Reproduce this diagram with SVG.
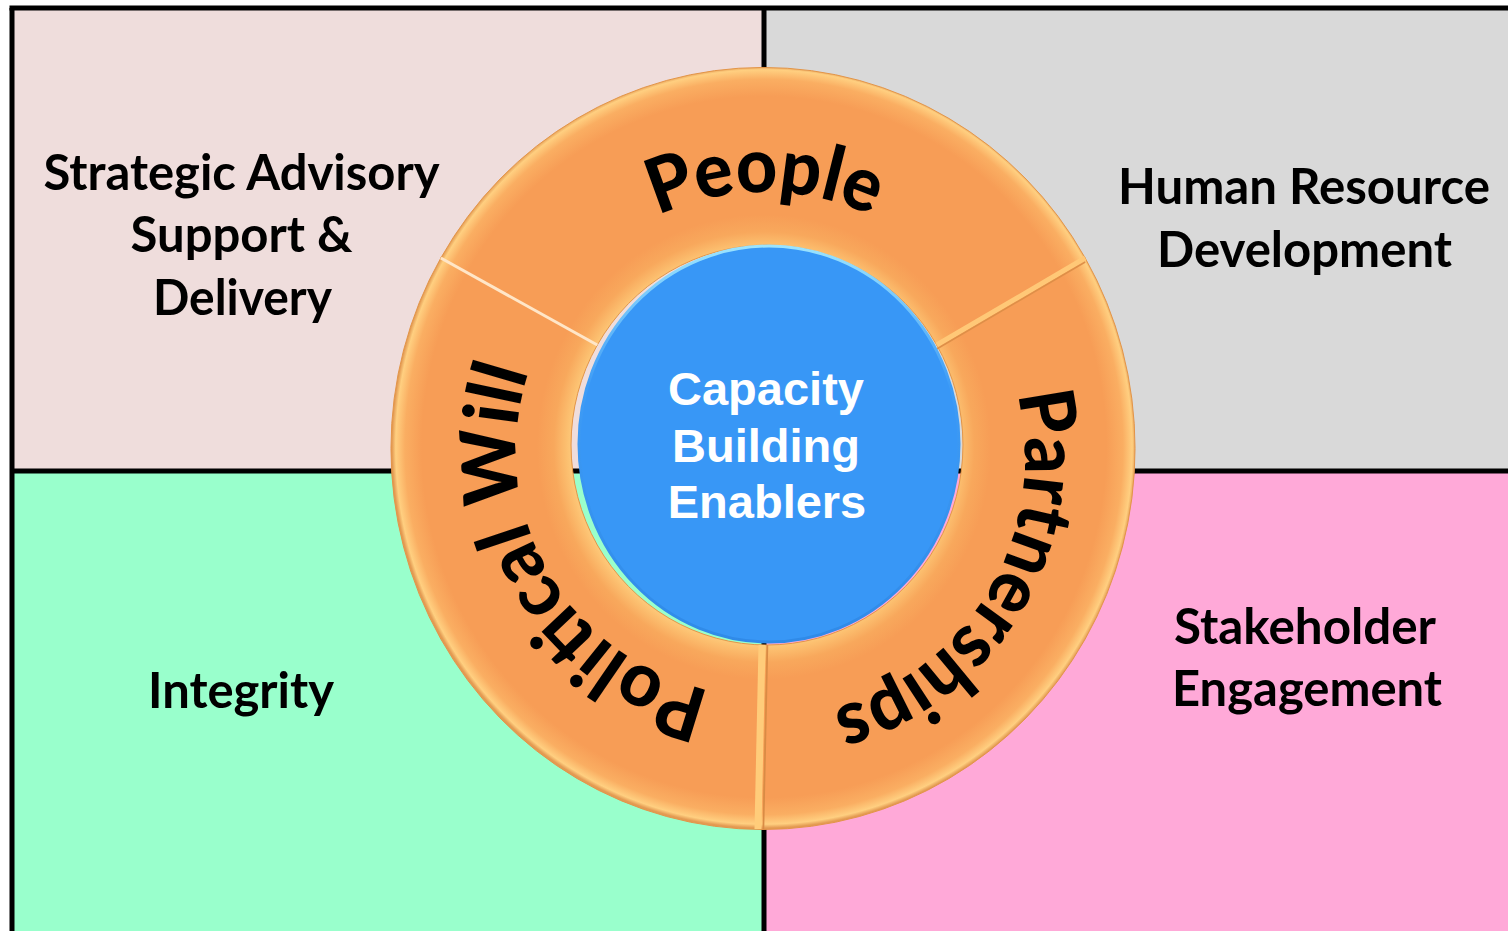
<svg xmlns="http://www.w3.org/2000/svg" width="1508" height="931" viewBox="0 0 1508 931">
  <style>
    .q { font-family: Lato, "Open Sans", "Liberation Sans", sans-serif; font-weight: 700; font-size: 49px; fill: #000; text-anchor: middle; }
    .ringtxt { font-family: Lato, "Open Sans", "Liberation Sans", sans-serif; font-weight: 900; font-size: 76px; fill: #000; }
    .ctr { font-family: "Liberation Sans", Arial, sans-serif; font-weight: 700; font-size: 47px; fill: #fff; text-anchor: middle; }
    .frame { stroke: #000; stroke-width: 5; fill: none; }
    .seg { fill: url(#ringGrad); stroke: #E39548; stroke-width: 1; }
  </style>
  <defs>
    <radialGradient id="ringGrad" gradientUnits="userSpaceOnUse" cx="0" cy="0" r="1" gradientTransform="translate(764 447) scale(372 381)">
      <stop offset="0.50" stop-color="#FFD586"/>
      <stop offset="0.53" stop-color="#FCC070"/>
      <stop offset="0.565" stop-color="#F8A85C"/>
      <stop offset="0.61" stop-color="#F79D56"/>
      <stop offset="0.92" stop-color="#F79D56"/>
      <stop offset="0.965" stop-color="#FAAE62"/>
      <stop offset="0.99" stop-color="#FFCF80"/>
      <stop offset="1" stop-color="#E39A52"/>
    </radialGradient>
    <linearGradient id="blueRim" x1="0" y1="0" x2="0" y2="1">
      <stop offset="0" stop-color="#9BE4FF"/>
      <stop offset="0.35" stop-color="#3E9CF6"/>
      <stop offset="1" stop-color="#2F8AE8"/>
    </linearGradient>
    <path id="pPeople" d="M 510 447 A 255 255 0 0 1 1020 447"/>
    <path id="pPart" d="M 896.6 233.7 A 260 260 0 0 1 633.4 682.3"/>
    <path id="pPol" d="M 883.9 663.7 A 246 246 0 0 1 640.1 236.3"/>
  </defs>

  <rect x="0" y="0" width="1508" height="931" fill="#fff"/>

  <g id="q-strategic">
    <rect x="12" y="8" width="752" height="463" fill="#EFDDDC"/>
    <text class="q" x="241.5" y="190" textLength="396" lengthAdjust="spacingAndGlyphs">Strategic Advisory</text>
    <text class="q" x="241.5" y="252" textLength="222" lengthAdjust="spacingAndGlyphs">Support &amp;</text>
    <text class="q" x="242.5" y="315" textLength="179" lengthAdjust="spacingAndGlyphs">Delivery</text>
  </g>
  <g id="q-hrd">
    <rect x="764" y="8" width="744" height="463" fill="#D9D9D9"/>
    <text class="q" x="1304" y="204" textLength="372" lengthAdjust="spacingAndGlyphs">Human Resource</text>
    <text class="q" x="1304.5" y="267" textLength="295" lengthAdjust="spacingAndGlyphs">Development</text>
  </g>
  <g id="q-integrity">
    <rect x="12" y="471" width="752" height="460" fill="#99FFCC"/>
    <text class="q" x="241" y="708" textLength="186" lengthAdjust="spacingAndGlyphs">Integrity</text>
  </g>
  <g id="q-stakeholder">
    <rect x="764" y="471" width="744" height="460" fill="#FFA9D8"/>
    <text class="q" x="1305" y="644" textLength="262" lengthAdjust="spacingAndGlyphs">Stakeholder</text>
    <text class="q" x="1307" y="706" textLength="270" lengthAdjust="spacingAndGlyphs">Engagement</text>
  </g>

  <g id="frame">
    <line class="frame" x1="9.5" y1="8" x2="1508" y2="8"/>
    <line class="frame" x1="12" y1="8" x2="12" y2="931"/>
    <line class="frame" x1="764" y1="8" x2="764" y2="931"/>
    <line class="frame" x1="12" y1="471" x2="1508" y2="471"/>
  </g>

  <g id="connectors"></g>

  <g id="seg-people">
    <path class="seg" d="M 440.8 258 A 372 381 0 0 1 1085.2 258 L 936.7 345 A 196 200 0 0 0 597.3 345 Z"/>
    <text class="ringtxt"><textPath href="#pPeople" startOffset="50%" text-anchor="middle" textLength="221" lengthAdjust="spacingAndGlyphs">People</textPath></text>
  </g>
  <g id="seg-partnerships">
    <path class="seg" d="M 1085.2 258 A 372 381 0 0 1 763 829.5 L 767 645 A 196 200 0 0 0 936.7 345 Z"/>
    <text class="ringtxt"><textPath href="#pPart" startOffset="50%" text-anchor="middle" textLength="405" lengthAdjust="spacingAndGlyphs">Partnerships</textPath></text>
  </g>
  <g id="seg-political">
    <path class="seg" d="M 763 829.5 A 372 381 0 0 1 440.8 258 L 597.3 345 A 196 200 0 0 0 767 645 Z"/>
    <text class="ringtxt"><textPath href="#pPol" startOffset="50%" text-anchor="middle" textLength="414" lengthAdjust="spacingAndGlyphs">Political Will</textPath></text>
  </g>

  <g id="dividers">
    <line x1="440.8" y1="258" x2="597.3" y2="345" stroke="#FFE6C8" stroke-width="3"/>
    <line x1="1085.2" y1="258" x2="936.7" y2="345" stroke="#FFC877" stroke-width="5"/>
    <line x1="1085.2" y1="262" x2="936.7" y2="349" stroke="#DE8F48" stroke-width="1.5"/>
    <line x1="758" y1="829" x2="762" y2="645" stroke="#FFCC7A" stroke-width="7"/>
    <line x1="763.5" y1="829.5" x2="767.5" y2="645" stroke="#D98B45" stroke-width="1.5"/>
  </g>

  <g id="center">
    <ellipse cx="769" cy="444" rx="190" ry="198" fill="#3897F6" stroke="url(#blueRim)" stroke-width="3"/>
    <text class="ctr" x="766" y="405">Capacity</text>
    <text class="ctr" x="766" y="462">Building</text>
    <text class="ctr" x="767" y="518">Enablers</text>
  </g>
</svg>
